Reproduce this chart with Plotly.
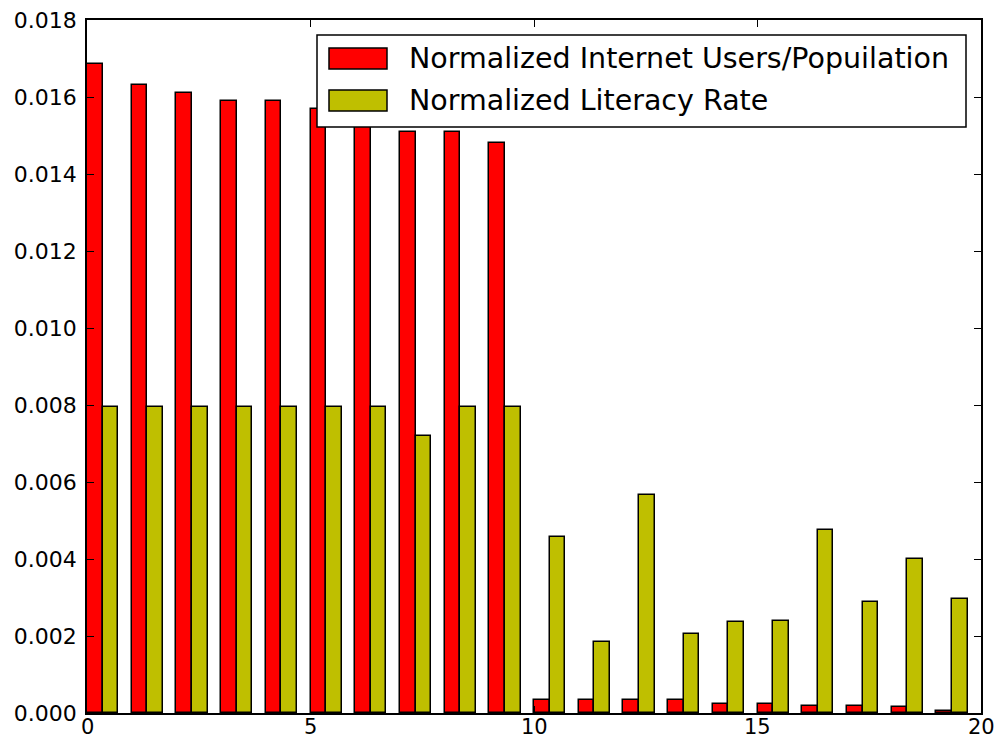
import plotly.graph_objects as go

# Group index along the x axis (one pair of bars per entry)
groups = list(range(20))

internet_users = [0.01685, 0.0163, 0.0161, 0.0159, 0.0159, 0.0157, 0.0154, 0.0151, 0.0151, 0.0148,
                  0.00034, 0.00034, 0.00034, 0.00034, 0.00023, 0.00023, 0.00018, 0.00018, 0.00015, 0.00005]
literacy_rate = [0.00795, 0.00795, 0.00795, 0.00795, 0.00795, 0.00795, 0.00795, 0.0072, 0.00795, 0.00795,
                 0.00456, 0.00184, 0.00565, 0.00206, 0.00236, 0.00239, 0.00475, 0.00288, 0.00401, 0.00296]

series_names = ["Normalized Internet Users/Popuilation", "Normalized Literacy Rate"]
series_colors = ["#ff0000", "#bfbf00"]

x_ticks = [0, 5, 10, 15, 20]
y_ticks = [0.000, 0.002, 0.004, 0.006, 0.008, 0.010, 0.012, 0.014, 0.016, 0.018]

bar_width = 0.35

# plot area in pixels
L, R, T, B = 87, 981, 20, 713
W, H = 995, 739

fig = go.Figure()
for k, vals in enumerate([internet_users, literacy_rate]):
    fig.add_trace(go.Bar(
        x=groups, y=vals, width=bar_width, offset=k * bar_width,
        name=series_names[k], showlegend=False,
        marker=dict(color=series_colors[k], line=dict(color="black", width=1.5)),
    ))

font_family = "DejaVu Sans"
axis_common = dict(
    showline=True, linecolor="black", linewidth=1.5, mirror="ticks",
    ticks="inside", ticklen=7, tickwidth=1, tickcolor="black",
    showgrid=False, zeroline=False, automargin=False,
)

fig.update_layout(
    width=W, height=H,
    margin=dict(l=L, r=W - R, t=T, b=H - B, autoexpand=False),
    paper_bgcolor="white", plot_bgcolor="white",
    barmode="overlay", bargap=0,
    xaxis=dict(range=[0, 20], tickvals=x_ticks, showticklabels=False, **axis_common),
    yaxis=dict(range=[0, 0.018], tickvals=y_ticks, ticktext=[f"{v:.3f}" for v in y_ticks],
               tickfont=dict(family=font_family, size=22, color="black"),
               ticklabelstandoff=4, **axis_common),
)

def px_x(p):
    return (p - L) / float(R - L)

def px_y(p):
    return (B - p) / float(B - T)

# x tick labels sit tight under the axis, placed at the tick values
for v in x_ticks:
    fig.add_annotation(xref="x", yref="paper", x=v, y=px_y(714),
                       xanchor="center", yanchor="top", showarrow=False,
                       text=str(v), borderpad=0,
                       font=dict(family=font_family, size=21, color="black"))

# Legend box in the upper right corner of the axes
fig.add_shape(type="rect", xref="paper", yref="paper",
              x0=px_x(317), x1=px_x(966), y0=px_y(127), y1=px_y(35),
              line=dict(color="black", width=1.5), fillcolor="white", layer="above")
rows = [58.5, 100.5]
for k in range(2):
    yc = rows[k]
    fig.add_shape(type="rect", xref="paper", yref="paper",
                  x0=px_x(329), x1=px_x(387), y0=px_y(yc + 10.5), y1=px_y(yc - 10.5),
                  line=dict(color="black", width=1.5), fillcolor=series_colors[k], layer="above")
    fig.add_annotation(xref="paper", yref="paper", x=px_x(407), y=px_y(yc),
                       xanchor="left", yanchor="middle", showarrow=False,
                       text=series_names[k],
                       font=dict(family=font_family, size=28.5, color="black"))

fig.write_html("out.html")
